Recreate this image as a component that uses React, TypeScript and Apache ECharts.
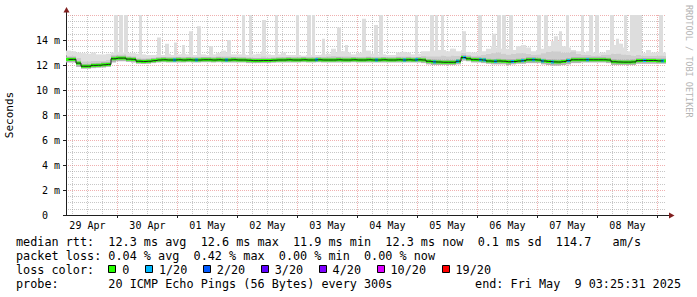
import React, { useEffect, useRef } from 'react';
import * as echarts from 'echarts';

// ---- time frame (hours after 29 Apr 2025 00:00) ----
const START_HOUR = 3 + 25 / 60 + 31 / 3600; // 29 Apr 03:25:31
const SPAN_HOURS = 240; // 10 days
const END_HOUR = START_HOUR + SPAN_HOURS; // 09 May 03:25:31
const BIN_HOURS = 2;
const SPIKE_HOURS = 1.4;
const LOSS_MARK_HOURS = 1.2;

const dayLabels = ['29 Apr', '30 Apr', '01 May', '02 May', '03 May', '04 May', '05 May', '06 May', '07 May', '08 May'];
const dayNoonHours = [12, 36, 60, 84, 108, 132, 156, 180, 204, 228];
const midnightHours = [24, 48, 72, 96, 120, 144, 168, 192, 216, 240];
const sixHourMarks = [6, 12, 18, 30, 36, 42, 54, 60, 66, 78, 84, 90, 102, 108, 114, 126, 132, 138, 150, 156, 162, 174, 180, 186, 198, 204, 210, 222, 228, 234];
const yTickLabels = ['0\u00a0\u00a0', '2 m', '4 m', '6 m', '8 m', '10 m', '12 m', '14 m', '16 m'];

// ---- median rtt per 2h bin (ms) ----
const median = [
  12.45, 12.45, 12.15, 11.9, 11.9, 11.97, 11.98, 12.02, 12.05, 12.5,
  12.55, 12.55, 12.47, 12.45, 12.3, 12.28, 12.3, 12.35, 12.4, 12.42,
  12.4, 12.4, 12.42, 12.4, 12.42, 12.4, 12.4, 12.42, 12.42, 12.4,
  12.42, 12.4, 12.4, 12.42, 12.4, 12.4, 12.38, 12.35, 12.35, 12.36,
  12.36, 12.38, 12.4, 12.4, 12.42, 12.4, 12.4, 12.42, 12.4, 12.4,
  12.42, 12.4, 12.4, 12.4, 12.42, 12.4, 12.4, 12.42, 12.4, 12.4,
  12.42, 12.4, 12.4, 12.42, 12.4, 12.4, 12.42, 12.4, 12.42, 12.4,
  12.42, 12.4, 12.3, 12.25, 12.24, 12.22, 12.22, 12.22, 12.3, 12.6,
  12.5, 12.43, 12.42, 12.4, 12.32, 12.3, 12.32, 12.3, 12.26, 12.28,
  12.32, 12.35, 12.42, 12.42, 12.4, 12.32, 12.28, 12.25, 12.24, 12.28,
  12.35, 12.42, 12.42, 12.42, 12.42, 12.42, 12.42, 12.42, 12.4, 12.26,
  12.24, 12.23, 12.23, 12.25, 12.35, 12.36, 12.36, 12.36, 12.33, 12.33,
];

// ---- smoke: lowest ping, top of dense smoke, top of light smoke (ms) ----
const smokeLow = [
  12.2, 12.2, 11.85, 11.7, 11.7, 11.75, 11.78, 11.8, 11.85, 12.2,
  12.3, 12.3, 12.25, 12.2, 12.1, 12.08, 12.1, 12.15, 12.2, 12.22,
  12.2, 12.2, 12.2, 12.2, 12.22, 12.2, 12.2, 12.22, 12.22, 12.2,
  12.22, 12.2, 12.2, 12.2, 12.2, 12.2, 12.15, 12.15, 12.15, 12.15,
  12.15, 12.18, 12.2, 12.2, 12.2, 12.2, 12.2, 12.22, 12.2, 12.2,
  12.22, 12.2, 12.2, 12.2, 12.2, 12.2, 12.2, 12.22, 12.2, 12.2,
  12.2, 12.2, 12.2, 12.2, 12.2, 12.2, 12.2, 12.2, 12.2, 12.2,
  12.2, 12.15, 12.05, 12.0, 12.0, 12.0, 12.0, 12.0, 12.05, 12.35,
  12.3, 12.2, 12.2, 12.15, 12.1, 12.05, 12.05, 12.05, 12.0, 12.05,
  12.1, 12.1, 12.15, 12.15, 12.15, 12.05, 12.0, 11.95, 11.95, 12.0,
  12.05, 12.15, 12.15, 12.2, 12.2, 12.2, 12.2, 12.2, 12.15, 12.0,
  12.0, 12.0, 12.0, 12.0, 12.1, 12.1, 12.1, 12.1, 12.1, 12.1,
];
const smokeMid = [
  12.75, 12.75, 12.6, 12.3, 12.3, 12.35, 12.35, 12.35, 12.4, 12.8,
  12.85, 12.85, 12.75, 12.7, 12.6, 12.55, 12.55, 12.6, 12.65, 12.65,
  12.65, 12.65, 12.65, 12.65, 12.65, 12.65, 12.65, 12.65, 12.65, 12.65,
  12.7, 12.7, 12.7, 12.65, 12.65, 12.65, 12.6, 12.6, 12.6, 12.7,
  12.6, 12.6, 12.65, 12.65, 12.65, 12.65, 12.65, 12.65, 12.65, 12.65,
  12.65, 12.65, 12.7, 12.75, 12.7, 12.7, 12.7, 12.65, 12.65, 12.65,
  12.7, 12.65, 12.65, 12.65, 12.65, 12.65, 12.7, 12.7, 12.7, 12.65,
  12.65, 12.75, 12.7, 12.7, 12.7, 12.75, 12.7, 12.75, 12.75, 12.95,
  12.8, 12.75, 12.75, 12.8, 12.9, 12.95, 13.0, 12.9, 12.85, 12.9,
  12.95, 12.95, 12.9, 12.8, 12.85, 12.95, 13.05, 13.1, 13.1, 13.0,
  13.0, 13.1, 12.9, 12.8, 12.8, 12.75, 12.75, 12.8, 12.85, 12.9,
  12.9, 12.85, 12.8, 12.75, 12.8, 12.75, 12.75, 12.75, 12.75, 12.75,
];
const smokeTop = [
  13.15, 13.1, 13.0, 12.95, 12.9, 13.0, 12.85, 12.85, 12.9, 13.0,
  13.05, 13.0, 12.95, 12.95, 12.9, 12.85, 12.8, 12.8, 12.85, 12.8,
  12.9, 12.8, 12.85, 12.9, 12.85, 12.8, 12.8, 12.85, 12.8, 12.85,
  12.95, 13.15, 13.0, 12.85, 12.85, 12.85, 12.8, 12.85, 12.9, 13.1,
  12.85, 12.8, 12.85, 13.0, 12.8, 12.8, 12.8, 12.75, 12.8, 12.8,
  12.8, 12.85, 12.9, 13.3, 13.0, 13.1, 13.0, 12.85, 12.95, 13.0,
  13.15, 12.9, 12.85, 12.85, 12.8, 12.8, 13.0, 13.05, 13.0, 12.85,
  12.9, 13.1, 13.1, 13.15, 13.2, 13.2, 13.1, 13.3, 13.1, 13.2,
  13.05, 13.0, 13.0, 13.1, 13.3, 13.5, 13.4, 13.3, 13.3, 13.2,
  13.5, 13.6, 13.4, 13.1, 13.2, 13.3, 13.5, 13.9, 13.9, 13.5,
  13.4, 13.2, 13.1, 13.0, 13.1, 13.0, 12.95, 13.0, 13.2, 13.6,
  13.7, 13.4, 13.1, 13.0, 13.1, 12.95, 13.2, 13.0, 13.0, 13.0,
];

// ---- outlier pings: [hour, ms] ----
const spikes = [
  [23.5, 16], [25.5, 16], [27.5, 16], [33.3, 16], [40.7, 14.2], [43.9, 13.7], [47.3, 13.8],
  [50.5, 13.6], [53.5, 14.7], [56.7, 15.1], [61.5, 13.5], [68.7, 14.0], [74.5, 16], [77.3, 16],
  [82.7, 15.6], [87.7, 16], [96.1, 16], [100.7, 16], [102.5, 16], [106.5, 14.1], [112.7, 15.0],
  [115.7, 13.6], [122.7, 15.7], [127.5, 15.2], [129.5, 16], [143.7, 16], [149.9, 16], [151.7, 16],
  [154.1, 16], [157.9, 13.3], [162.7, 14.7], [169.1, 16], [174.7, 14.5], [176.7, 16], [178.7, 16],
  [181.5, 16], [192.7, 16], [195.5, 16], [198.1, 13.9], [199.5, 14.3], [201.3, 14.7], [204.1, 16],
  [210.1, 16], [213.5, 16], [215.9, 16], [221.9, 16], [224.1, 14.1], [225.5, 13.7], [227.3, 16],
  [229.9, 16], [231.5, 16], [233.1, 16], [241.5, 16],
];

// ---- packet loss events: [hour, lost pings of 20] ----
const lossEvents = [
  [46.7, 1], [55.7, 1], [67.7, 1], [103.7, 1], [127.7, 1], [138.7, 1], [143.5, 1], [150.7, 1],
  [160.1, 1], [162.7, 1], [169.1, 1], [170.9, 1], [175.1, 1], [181.9, 1], [185.9, 1], [190.3, 1],
  [193.9, 1], [197.9, 1], [204.3, 1], [212.1, 1], [234.7, 1], [242.1, 1],
];

const lossLevels = [0, 1, 2, 3, 4, 10, 19];
const lossLabels = ['0', '1/20', '2/20', '3/20', '4/20', '10/20', '19/20'];
const lossColors = ['#26ff00', '#00b8ff', '#0059ff', '#5e00ff', '#7e00ff', '#dd00ff', '#ff0000'];

const legendMedian = 'median rtt:  12.3 ms avg  12.6 ms max  11.9 ms min  12.3 ms now  0.1 ms sd  114.7   am/s';
const legendLoss = 'packet loss: 0.04 % avg  0.42 % max  0.00 % min  0.00 % now';
const legendLossTitle = 'loss color:';
const legendProbe = 'probe:       20 ICMP Echo Pings (56 Bytes) every 300s';
const legendEnd = 'end: Fri May  9 03:25:31 2025';
const watermark = 'RRDTOOL / TOBI OETIKER';

// ---- styling ----
const MONO = '"DejaVu Sans Mono", monospace';
const GRID_LEFT = 66;
const GRID_TOP = 15;
const GRID_W = 600;
const GRID_H = 200;
const MINOR_GRID = 'rgba(143,143,143,0.5)';
const MAJOR_GRID = 'rgba(222,79,79,0.45)';
const AXIS_COLOR = '#1f1f1f';
const ARROW_COLOR = '#801f1f';
const LEGEND_SIZE = 11.8;
const CHAR_W = 7.1;

const nb = (s: string) => s.replace(/ /g, '\u00a0');
const binOf = (h: number) => Math.min(median.length - 1, Math.max(0, Math.floor((h - START_HOUR) / BIN_HOURS)));

function buildGraphics() {
  const els: any[] = [];
  const txt = (x: number, y: number, text: string, extra: any = {}) => ({
    type: 'text', x, y, silent: true,
    style: { text: nb(text), fontFamily: MONO, fontSize: LEGEND_SIZE, fill: '#000', verticalAlign: 'middle', align: 'left', ...extra },
  });
  els.push(txt(16, 241.5, legendMedian));
  els.push(txt(16, 255.5, legendLoss));
  els.push(txt(16, 269.5, legendLossTitle));
  let bx = 16 + 13 * CHAR_W;
  lossLabels.forEach((lab, k) => {
    const x = Math.round(bx);
    els.push({ type: 'rect', silent: true, shape: { x: x + 0.5, y: 265.5, width: 7, height: 7 }, style: { fill: lossColors[k], stroke: '#000', lineWidth: 1 } });
    els.push(txt(bx + 14, 269.5, lab));
    bx = bx + 14 + lab.length * CHAR_W + 15.5;
  });
  els.push(txt(16, 283.5, legendProbe));
  els.push(txt(681, 283.5, legendEnd, { align: 'right' }));
  // watermark
  els.push({
    type: 'text', x: 688.5, y: 5, rotation: -Math.PI / 2, silent: true,
    style: { text: nb(watermark), fontFamily: MONO, fontSize: 8.5, fill: '#b4b4b4', align: 'left', verticalAlign: 'middle' },
  });
  // axis extensions and arrows
  const ax = GRID_LEFT + 0.5;
  const ay = GRID_TOP + GRID_H + 0.5;
  els.push({ type: 'line', silent: true, shape: { x1: ax, y1: GRID_TOP, x2: ax, y2: GRID_TOP - 4 }, style: { stroke: AXIS_COLOR, lineWidth: 1 } });
  els.push({ type: 'polygon', silent: true, shape: { points: [[ax, GRID_TOP - 8], [ax - 3, GRID_TOP - 2.5], [ax + 3, GRID_TOP - 2.5]] }, style: { fill: ARROW_COLOR } });
  els.push({ type: 'line', silent: true, shape: { x1: GRID_LEFT + GRID_W, y1: ay, x2: GRID_LEFT + GRID_W + 4, y2: ay }, style: { stroke: AXIS_COLOR, lineWidth: 1 } });
  els.push({ type: 'polygon', silent: true, shape: { points: [[GRID_LEFT + GRID_W + 8.5, ay], [GRID_LEFT + GRID_W + 3, ay - 3], [GRID_LEFT + GRID_W + 3, ay + 3]] }, style: { fill: ARROW_COLOR } });
  return els;
}

function buildOption(): any {
  const bins = median.map((m, i) => [
    START_HOUR + i * BIN_HOURS,
    START_HOUR + (i + 1) * BIN_HOURS,
    smokeLow[i], smokeMid[i], smokeTop[i], m,
  ]);
  return {
    animation: false,
    backgroundColor: '#ffffff',
    textStyle: { fontFamily: MONO },
    grid: { left: GRID_LEFT, top: GRID_TOP, width: GRID_W, height: GRID_H, containLabel: false, outerBoundsMode: 'none' },
    xAxis: [
      {
        type: 'value', min: START_HOUR, max: END_HOUR, position: 'top',
        axisLine: { show: false },
        axisTick: { show: false, customValues: sixHourMarks },
        axisLabel: { show: false },
        splitLine: { show: true, lineStyle: { color: MINOR_GRID, width: 1, type: [1, 1] } },
      },
      {
        type: 'value', min: START_HOUR, max: END_HOUR, position: 'bottom',
        axisLine: { show: true, onZero: false, lineStyle: { color: AXIS_COLOR, width: 1 } },
        axisTick: { show: true, customValues: midnightHours, length: 3, lineStyle: { color: AXIS_COLOR } },
        axisLabel: {
          customValues: dayNoonHours,
          formatter: (v: number) => dayLabels[Math.round((v - 12) / 24)] ?? '',
          fontFamily: MONO, fontSize: 10, color: '#000', margin: 5,
        },
        splitLine: { show: true, lineStyle: { color: MAJOR_GRID, width: 1, type: [1, 1] } },
      },
    ],
    yAxis: {
      type: 'value', min: 0, max: 16, interval: 2,
      axisLine: { show: true, lineStyle: { color: AXIS_COLOR, width: 1 } },
      axisTick: { show: true, length: 3, lineStyle: { color: AXIS_COLOR } },
      axisLabel: {
        formatter: (v: number) => yTickLabels[Math.round(v / 2)] ?? '',
        showMaxLabel: false, margin: 6, fontFamily: MONO, fontSize: 10, color: '#000',
      },
      splitLine: { show: true, lineStyle: { color: MAJOR_GRID, width: 1, type: [1, 1] } },
      minorTick: { show: false, splitNumber: 4 },
      minorSplitLine: { show: true, lineStyle: { color: MINOR_GRID, width: 1, type: [1, 1] } },
      name: 'Seconds', nameLocation: 'middle', nameRotate: 90, nameGap: 51,
      nameTextStyle: { fontFamily: MONO, fontSize: 11, color: '#000' },
    },
    series: [
      {
        name: 'outliers', type: 'custom', xAxisIndex: 1, yAxisIndex: 0, clip: true, silent: true,
        data: spikes.map(([h, v]) => [h, v, smokeMid[binOf(h)]]),
        encode: { x: 0, y: [1, 2] },
        renderItem: (_p: any, api: any) => {
          const h = api.value(0);
          const top = api.coord([h, api.value(1)]);
          const base = api.coord([h, api.value(2)]);
          const half = api.size([SPIKE_HOURS, 0])[0] / 2;
          const x0 = Math.round(top[0] - half);
          const x1 = Math.round(top[0] + half);
          return { type: 'rect', shape: { x: x0, y: top[1], width: x1 - x0, height: base[1] - top[1] }, style: { fill: '#dddddd' } };
        },
      },
      {
        name: 'smoke', type: 'custom', xAxisIndex: 1, yAxisIndex: 0, clip: true, silent: true,
        data: bins,
        encode: { x: [0, 1], y: [2, 3, 4] },
        renderItem: (_p: any, api: any) => {
          const t0 = api.value(0), t1 = api.value(1);
          const lo = api.value(2), mid = api.value(3), top = api.value(4), med = api.value(5);
          const darkTop = Math.min(mid, med + 0.22);
          const pLo = api.coord([t0, lo]);
          const pDark = api.coord([t1, darkTop]);
          const pMid = api.coord([t1, mid]);
          const pTop = api.coord([t1, top]);
          const x = pLo[0], w = pTop[0] - pLo[0];
          return {
            type: 'group',
            children: [
              { type: 'rect', shape: { x, y: pTop[1], width: w, height: pMid[1] - pTop[1] }, style: { fill: '#dfdfdf' } },
              { type: 'rect', shape: { x, y: pMid[1], width: w, height: pDark[1] - pMid[1] }, style: { fill: '#cdcdcd' } },
              { type: 'rect', shape: { x, y: pDark[1], width: w, height: pLo[1] - pDark[1] }, style: { fill: '#b4b4b4' } },
            ],
          };
        },
      },
      {
        name: 'median edge', type: 'line', xAxisIndex: 1, yAxisIndex: 0, step: 'middle', silent: true,
        symbol: 'none', lineStyle: { color: '#202020', width: 1 },
        data: median.map((m, i) => [START_HOUR + (i + 0.5) * BIN_HOURS, m]),
      },
      {
        name: 'median', type: 'custom', xAxisIndex: 1, yAxisIndex: 0, clip: true, silent: true,
        data: median.map((m, i) => [START_HOUR + i * BIN_HOURS, START_HOUR + (i + 1) * BIN_HOURS, m]),
        encode: { x: [0, 1], y: 2 },
        renderItem: (_p: any, api: any) => {
          const a = api.coord([api.value(0), api.value(2)]);
          const b = api.coord([api.value(1), api.value(2)]);
          return { type: 'rect', shape: { x: a[0], y: a[1] - 1.5, width: b[0] - a[0], height: 3 }, style: { fill: lossColors[0] } };
        },
      },
      {
        name: 'loss', type: 'custom', xAxisIndex: 1, yAxisIndex: 0, clip: true, silent: true,
        data: lossEvents.map(([h, c]) => [h, median[binOf(h)], c]),
        encode: { x: 0, y: 1 },
        renderItem: (_p: any, api: any) => {
          const p = api.coord([api.value(0), api.value(1)]);
          const half = api.size([LOSS_MARK_HOURS, 0])[0] / 2;
          const c = api.value(2);
          let idx = lossLevels.findIndex((l) => c <= l);
          if (idx < 0) idx = lossLevels.length - 1;
          const x0 = Math.round(p[0] - half);
          const x1 = Math.round(p[0] + half);
          return { type: 'rect', shape: { x: x0, y: p[1] - 1.5, width: x1 - x0, height: 3 }, style: { fill: lossColors[idx] } };
        },
      },
    ],
    graphic: buildGraphics(),
  };
}

export default function App() {
  const ref = useRef<HTMLDivElement>(null);
  useEffect(() => {
    document.body.style.margin = '0';
    if (!ref.current) return;
    const chart = echarts.init(ref.current, null, { renderer: 'svg' });
    chart.setOption(buildOption());
    return () => chart.dispose();
  }, []);
  return <div ref={ref} style={{ position: 'absolute', left: 0, top: 0, width: 697, height: 297, background: '#fff' }} />;
}
